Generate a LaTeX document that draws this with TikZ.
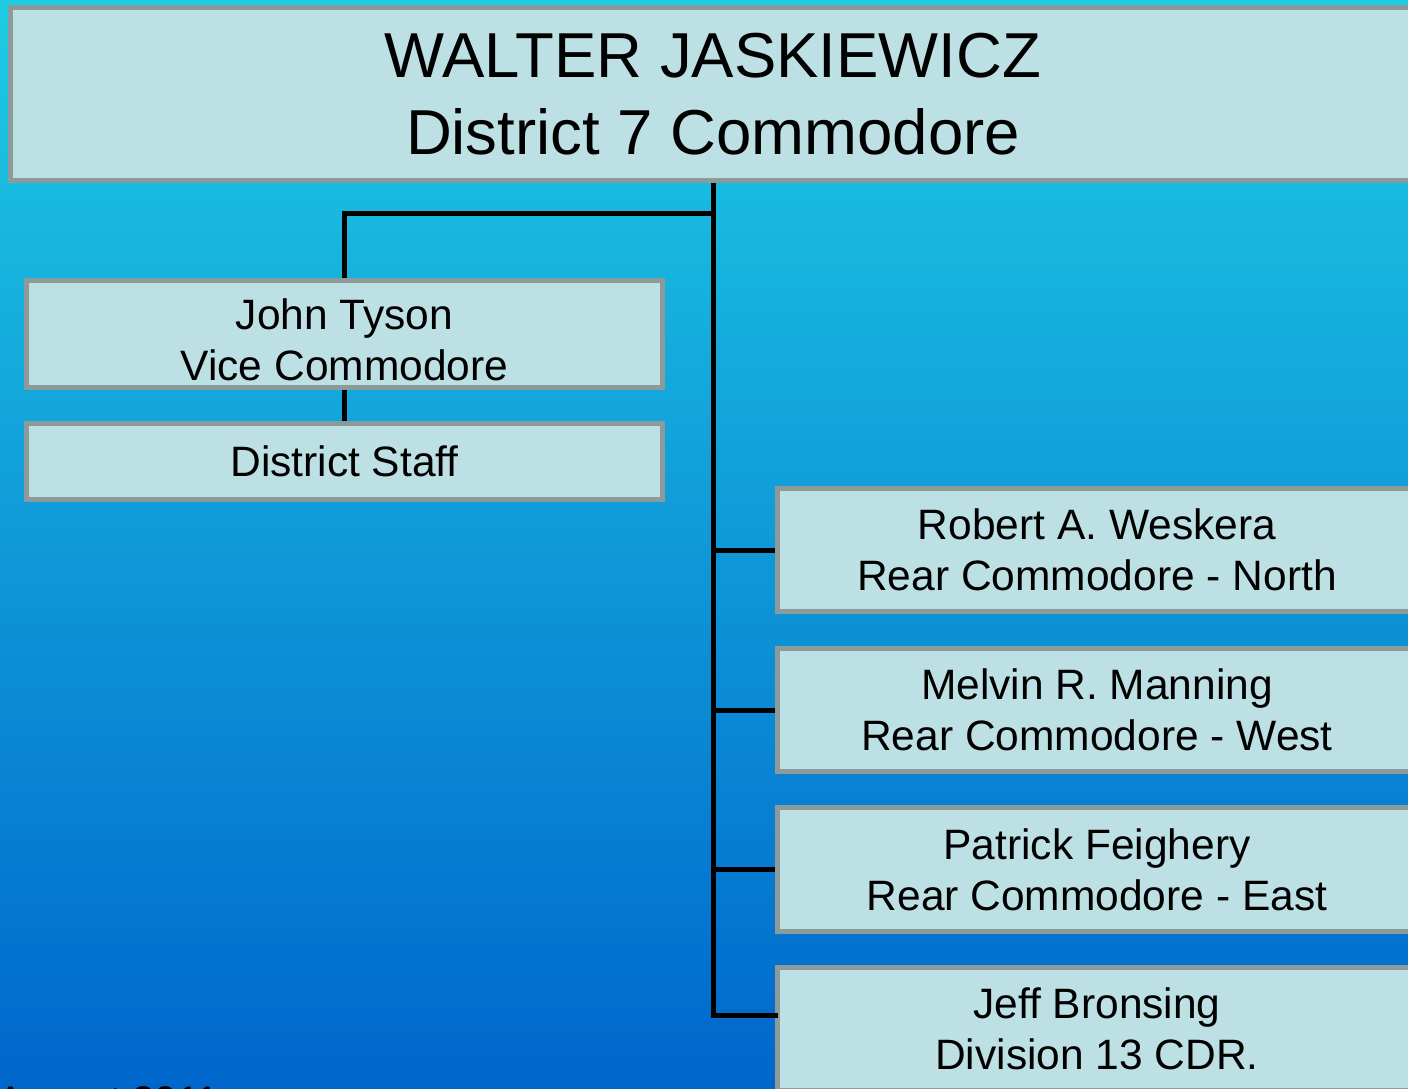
\documentclass[tikz,border=0pt]{standalone}
\usepackage{fontspec}
\setmainfont{Liberation Sans}
\definecolor{bgtop}{RGB}{30,204,228}
\definecolor{bgmid}{RGB}{12,152,222}
\definecolor{bgbot}{RGB}{0,102,204}
\definecolor{boxfill}{RGB}{188,224,228}
\definecolor{boxline}{RGB}{140,154,154}
\begin{document}
\begin{tikzpicture}[x=1pt,y=-1pt,
    box/.style={draw=boxline,fill=boxfill,line width=5pt,align=center,inner sep=0pt},
    big/.style={font=\fontsize{63.5}{77}\selectfont},
    small/.style={font=\fontsize{42.5}{51}\selectfont},
    conn/.style={line width=5pt,black}]
            \useasboundingbox (0,0) rectangle (1408,1089);
            \clip (0,0) rectangle (1408,1089);
            \shade[top color=bgtop,middle color=bgmid,bottom color=bgbot] (0,0) rectangle (1408,1089);

            \node[box,big,minimum width=1405pt,minimum height=173pt] (walter) at (713,94) {WALTER JASKIEWICZ\\District 7 Commodore};
            \node[box,small,minimum width=636pt,minimum height=107pt] (tyson) at (344.5,334) {\rule{0pt}{43pt}John Tyson\\Vice Commodore};
            \node[box,small,minimum width=636pt,minimum height=76pt] (staff) at (344.5,461.5) {District Staff};
            \node[box,small,minimum width=639pt,minimum height=123pt] (robert) at (1097,550) {Robert A. Weskera\\Rear Commodore - North};
            \node[box,small,minimum width=639pt,minimum height=123pt] (melvin) at (1097,710) {Melvin R. Manning\\Rear Commodore - West};
            \node[box,small,minimum width=639pt,minimum height=124pt] (patrick) at (1097,869.5) {Patrick Feighery\\Rear Commodore - East};
            \node[box,small,minimum width=639pt,minimum height=123pt] (jeff) at (1097,1029) {Jeff Bronsing\\Division 13 CDR.};
            \node[font=\fontsize{40}{48}\selectfont,anchor=base east,inner sep=0pt] (date) at (219,1114) {August 2011};

            \coordinate (split) at (713,213);
            \coordinate (trunk) at (713,1015);

            \draw[conn] (walter.south) to (trunk); \draw[conn] (split) -| (tyson.north);
            \draw[conn] (tyson) to (staff);
            \draw[conn] (robert.west -| trunk) to (robert.west); \draw[conn] (melvin.west -| trunk) to (melvin.west);
            \draw[conn] (patrick.west -| trunk) to (patrick.west); \draw[conn,line cap=rect] (trunk) to (trunk -| jeff.west);
        \end{tikzpicture}
\end{document}
